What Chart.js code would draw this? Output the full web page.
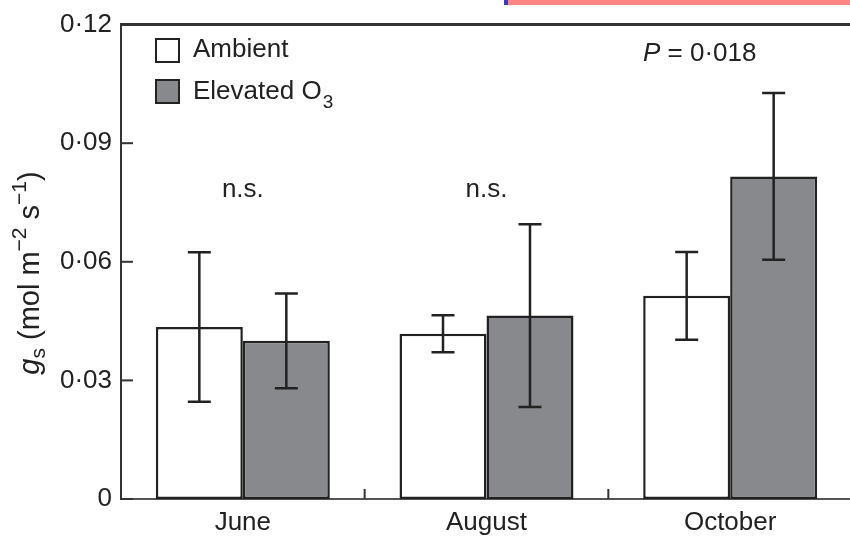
<!DOCTYPE html>
<html>
<head>
<meta charset="utf-8">
<script src="https://cdn.jsdelivr.net/npm/chart.js@4"></script>
<style>
  html, body { margin: 0; padding: 0; background: #fff; overflow: hidden; }
  #wrap { position: relative; width: 852px; height: 536px; }
  #strip { position: absolute; left: 504px; top: 0; width: 346px; height: 5px; background: #ff8585; border-left: 4px solid #3a3ad0; box-sizing: border-box; }
</style>
</head>
<body>
<div id="wrap">
  <canvas id="gsChart"></canvas>
  <div id="strip"></div>
</div>
<script>
// Stomatal conductance by month
const months = ["June", "August", "October"];
const ambient = [0.0435, 0.0418, 0.0514];
const ambientErr = [0.0189, 0.0047, 0.0111];
const elevated = [0.0400, 0.0464, 0.0816];
const elevatedErr = [0.0120, 0.0231, 0.0211];
const yTicks = [0, 0.03, 0.06, 0.09, 0.12];
const sigLabels = ["n.s.", "n.s.", ""];

const FONT = "Liberation Sans, Arial, Helvetica, sans-serif";
const INK = "#222";
const GREY = "#88898c";

function fmt(v) {
  return v === 0 ? "0" : v.toFixed(2).replace(".", "\u00b7");
}

// error bars, inward ticks, legend and labels drawn on top
const extras = {
  id: "extras",
  afterDatasetsDraw(chart) {
    const c = chart.ctx;
    const area = chart.chartArea;
    const y = chart.scales.y;
    const x = chart.scales.x;
    const errs = [ambientErr, elevatedErr];
    const vals = [ambient, elevated];

    c.save();
    c.strokeStyle = INK;
    c.lineWidth = 2.5;
    // error bars
    for (let d = 0; d < 2; d++) {
      chart.getDatasetMeta(d).data.forEach((bar, i) => {
        const hi = y.getPixelForValue(vals[d][i] + errs[d][i]);
        const lo = y.getPixelForValue(vals[d][i] - errs[d][i]);
        c.beginPath();
        c.moveTo(bar.x, hi); c.lineTo(bar.x, lo);
        c.moveTo(bar.x - 11.5, hi); c.lineTo(bar.x + 11.5, hi);
        c.moveTo(bar.x - 11.5, lo); c.lineTo(bar.x + 11.5, lo);
        c.stroke();
      });
    }

    // inward y ticks
    c.lineWidth = 2;
    c.strokeStyle = "#333";
    yTicks.forEach(v => {
      const py = y.getPixelForValue(v);
      c.beginPath();
      c.moveTo(area.left, py); c.lineTo(area.left + 12, py);
      c.stroke();
    });

    // x ticks between groups
    for (let i = 0; i < months.length - 1; i++) {
      const px = (x.getPixelForValue(i) + x.getPixelForValue(i + 1)) / 2;
      c.beginPath();
      c.moveTo(px, area.bottom); c.lineTo(px, area.bottom - 10);
      c.stroke();
    }

    // top frame line
    c.lineWidth = 3;
    c.beginPath();
    c.moveTo(area.left - 1, area.top); c.lineTo(area.right, area.top);
    c.stroke();

    // legend
    c.lineWidth = 2;
    c.strokeStyle = INK;
    c.fillStyle = "#fff";
    c.fillRect(156, 39, 23, 23);
    c.strokeRect(156, 39, 23, 23);
    c.fillStyle = GREY;
    c.fillRect(156, 80, 23, 23);
    c.strokeRect(156, 80, 23, 23);

    c.fillStyle = INK;
    c.font = "26px " + FONT;
    c.textBaseline = "middle";
    c.textAlign = "left";
    c.fillText("Ambient", 193, 50);
    c.fillText("Elevated O", 193, 92);
    const w = c.measureText("Elevated O").width;
    c.font = "19px " + FONT;
    c.fillText("3", 193 + w + 1, 103);

    // significance labels
    c.font = "26px " + FONT;
    c.textAlign = "center";
    sigLabels.forEach((s, i) => {
      if (s) c.fillText(s, x.getPixelForValue(i), 190);
    });
    c.textAlign = "left";
    c.font = "italic 26px " + FONT;
    c.fillText("P", 643, 54);
    const pw = c.measureText("P").width;
    c.font = "26px " + FONT;
    c.fillText(" = 0\u00b7018", 643 + pw, 54);

    // y axis title
    c.translate(31, 273);
    c.rotate(-Math.PI / 2);
    c.textAlign = "left";
    const parts = [
      ["italic 29px ", "g", 0],
      ["21px ", "s", 8],
      ["29px ", " (mol m", 0],
      ["21px ", "\u22122", -11],
      ["29px ", " s", 0],
      ["21px ", "\u22121", -11],
      ["29px ", ")", 0]
    ];
    let total = 0;
    parts.forEach(p => { c.font = p[0] + FONT; total += c.measureText(p[1]).width; });
    let cx = -total / 2;
    parts.forEach(p => {
      c.font = p[0] + FONT;
      c.fillText(p[1], cx, p[2]);
      cx += c.measureText(p[1]).width;
    });
    c.restore();
  }
};

new Chart(document.getElementById("gsChart"), {
  type: "bar",
  data: {
    labels: months,
    datasets: [
      {
        label: "Ambient",
        data: ambient,
        backgroundColor: "#fff",
        borderColor: INK,
        borderWidth: 2.5,
        borderSkipped: false
      },
      {
        label: "Elevated O3",
        data: elevated,
        backgroundColor: GREY,
        borderColor: INK,
        borderWidth: 2.5,
        borderSkipped: false
      }
    ]
  },
  options: {
    responsive: true,
    maintainAspectRatio: false,
    animation: false,
    events: [],
    layout: { padding: { top: 24, left: 0, right: 0, bottom: 0 } },
    datasets: { bar: { categoryPercentage: 0.714, barPercentage: 1.0 } },
    plugins: { legend: { display: false }, tooltip: { enabled: false } },
    scales: {
      x: {
        grid: { display: false, drawTicks: false },
        border: { color: "#555", width: 2 },
        ticks: { color: INK, font: { family: FONT, size: 26 }, padding: 8 },
        afterFit: s => { s.height = 37; }
      },
      y: {
        min: 0,
        max: 0.12,
        grid: { display: false, drawTicks: false },
        border: { color: "#333", width: 2 },
        afterBuildTicks: s => { s.ticks = yTicks.map(v => ({ value: v })); },
        ticks: { color: INK, font: { family: FONT, size: 26 }, padding: 9, callback: v => fmt(v) },
        afterFit: s => { s.width = 121; }
      }
    }
  },
  plugins: [extras]
});
</script>
</body>
</html>
